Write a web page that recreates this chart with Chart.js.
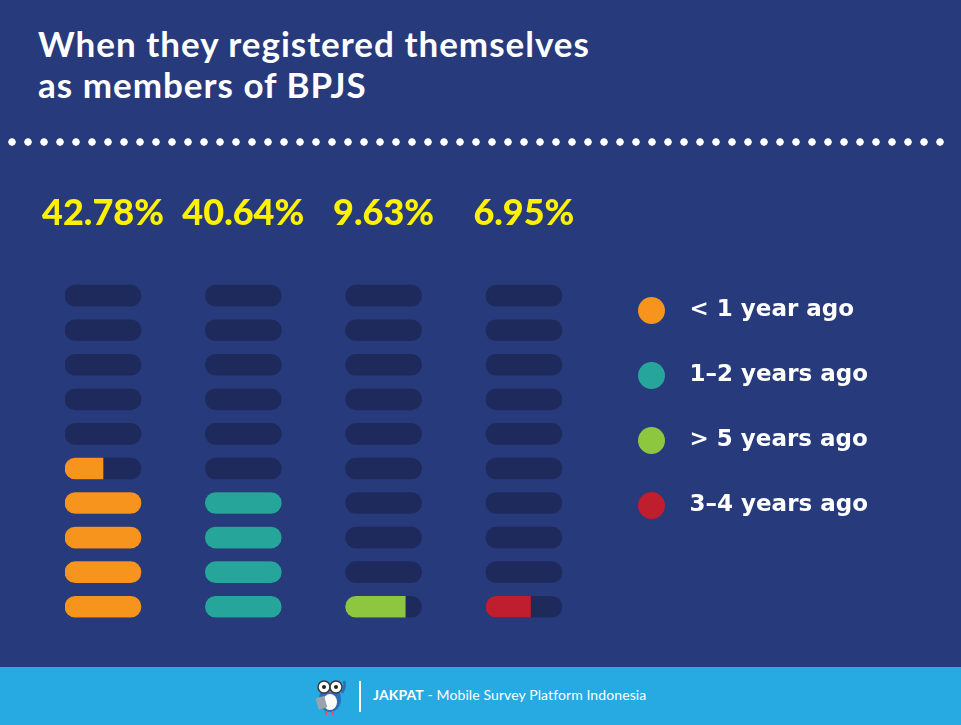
<!DOCTYPE html>
<html lang="en">
<head>
    <meta charset="UTF-8">
    <title>When they registered themselves as members of BPJS</title>
    <script src="https://cdn.jsdelivr.net/npm/chart.js@4.4.1/dist/chart.umd.min.js"></script>
    <style>
        * {
            margin: 0;
            padding: 0;
            box-sizing: border-box;
        }

        body {
            width: 961px;
            height: 725px;
            overflow: hidden;
            background: #273a7c;
            font-family: 'Lato', sans-serif;
            position: relative;
        }

        .title {
            position: absolute;
            left: 38px;
            top: 23px;
            color: #ffffff;
            font-size: 35px;
            font-weight: 700;
            line-height: 41px;
            letter-spacing: 1px;
        }

        .dots {
            position: absolute;
            left: 4px;
            top: 138px;
            width: 944px;
            height: 8px;
            background-image: radial-gradient(circle, #ffffff 3.4px, transparent 4px);
            background-size: 16px 8px;
        }

        .chart-wrapper {
            position: absolute;
            left: 0;
            top: 149px;
            width: 961px;
            height: 475px;
        }

        .footer {
            position: absolute;
            left: 0;
            top: 667px;
            width: 961px;
            height: 58px;
            background: #27a9e1;
        }

        .footer .owl {
            position: absolute;
            left: 313px;
            top: 8px;
        }

        .footer .sep {
            position: absolute;
            left: 359px;
            top: 14px;
            width: 2px;
            height: 31px;
            background: #ffffff;
        }

        .footer .brand {
            position: absolute;
            left: 373px;
            top: 19px;
            color: #ffffff;
            font-size: 14px;
            line-height: 18px;
            letter-spacing: 0.1px;
            white-space: nowrap;
        }
    </style>
</head>
<body>
    <div class="title">When they registered themselves<br>as members of BPJS</div>
    <div class="dots"></div>

    <div class="chart-wrapper">
        <canvas id="pillChart"></canvas>
    </div>

    <div class="footer">
        <svg class="owl" width="36" height="40" viewBox="0 0 36 40">
            <ellipse cx="17" cy="24" rx="11" ry="13" fill="#2d6db5"/>
            <ellipse cx="17" cy="27" rx="7" ry="8" fill="#ffffff"/>
            <rect x="4" y="22" width="9" height="12" rx="1" fill="#9aa3ad" transform="rotate(-15 8 28)"/>
            <circle cx="11" cy="12" r="6" fill="#ffffff" stroke="#3a3a3a" stroke-width="1.5"/>
            <circle cx="23" cy="12" r="6" fill="#ffffff" stroke="#3a3a3a" stroke-width="1.5"/>
            <circle cx="11" cy="12" r="2" fill="#222"/>
            <circle cx="23" cy="12" r="2" fill="#222"/>
            <path d="M16 16 L18 16 L17 19 Z" fill="#e8505b"/>
            <path d="M29 18 Q33 12 31 6" stroke="#2d6db5" stroke-width="2.5" fill="none"/>
            <rect x="12" y="36" width="2" height="4" fill="#e8505b"/>
            <rect x="19" y="36" width="2" height="4" fill="#e8505b"/>
        </svg>
        <div class="sep"></div>
        <div class="brand"><b>JAKPAT</b> - Mobile Survey Platform Indonesia</div>
    </div>

    <script>
        // データ
        const categories = ['< 1 year ago', '1–2 years ago', '> 5 years ago', '3–4 years ago'];
        const percentLabels = ['42.78%', '40.64%', '9.63%', '6.95%'];
        // pills filled per column, counted from the bottom, as drawn
        const filledPills = [4.5, 4, 0.785, 0.587];
        const rowLabels = ['10', '9', '8', '7', '6', '5', '4', '3', '2', '1'];

        const fillColors = ['#f7941e', '#26a69a', '#8dc63f', '#be1e2d'];
        const trackColor = '#1f2a5c';

        // layout (px)
        const pillWidth = 76;
        const colStep = 140.3 / pillWidth;
        const chartLeft = 65;
        const legendFont = { family: 'DejaVu Sans', size: 23, weight: 'bold' };
        const legendPad = 42;
        const legendBox = 40;
        const legendLeft = 638 - legendPad;

        // right padding so the legend starts at legendLeft
        const measure = document.createElement('canvas').getContext('2d');
        measure.font = 'bold 23px "DejaVu Sans"';
        const textW = Math.max(...categories.map(t => measure.measureText(t).width));
        const legendWidth = legendPad + legendBox + legendFont.size / 2 + textW + 10;
        const padRight = 961 - legendLeft - legendWidth;
        const xMax = (legendLeft - chartLeft) / pillWidth;

        // legend dot: circle on the left of a wider transparent box
        function dotImage(color) {
            const c = document.createElement('canvas');
            c.width = legendBox;
            c.height = 27;
            const g = c.getContext('2d');
            g.fillStyle = color;
            g.beginPath();
            g.arc(13.5, 13.5, 13.5, 0, Math.PI * 2);
            g.fill();
            return c;
        }

        const rounded = 10.5;

        const fillSets = categories.map((name, c) => ({
            label: name,
            data: rowLabels.map((r, i) => {
                const k = rowLabels.length - 1 - i;
                const frac = Math.max(0, Math.min(1, filledPills[c] - k));
                if (frac <= 0) return null;
                return [c * colStep, c * colStep + frac];
            }),
            backgroundColor: fillColors[c],
            borderWidth: 0,
            borderSkipped: false,
            borderRadius: (ctx) => {
                const v = ctx.raw;
                if (v && v[1] - v[0] < 0.999) {
                    return { topLeft: rounded, bottomLeft: rounded, topRight: 0, bottomRight: 0 };
                }
                return rounded;
            },
            barThickness: 21,
            grouped: false
        }));

        const trackSets = categories.map((name, c) => ({
            label: 'track',
            data: rowLabels.map(() => [c * colStep, c * colStep + 1]),
            backgroundColor: trackColor,
            borderWidth: 0,
            borderSkipped: false,
            borderRadius: rounded,
            barThickness: 21,
            grouped: false
        }));

        const config = {
            type: 'bar',
            data: {
                labels: rowLabels,
                datasets: [...fillSets, ...trackSets]
            },
            options: {
                indexAxis: 'y',
                responsive: true,
                maintainAspectRatio: false,
                animation: false,
                layout: {
                    padding: { left: chartLeft, right: padRight, top: 0, bottom: 0 }
                },
                plugins: {
                    tooltip: { enabled: false },
                    legend: {
                        position: 'right',
                        align: 'center',
                        title: {
                            display: true,
                            text: '',
                            font: { size: 10 },
                            padding: { top: 0, bottom: 31 }
                        },
                        labels: {
                            color: '#ffffff',
                            font: legendFont,
                            padding: legendPad,
                            usePointStyle: true,
                            pointStyleWidth: legendBox,
                            generateLabels: () => categories.map((name, c) => ({
                                text: name,
                                fillStyle: fillColors[c],
                                strokeStyle: fillColors[c],
                                lineWidth: 0,
                                pointStyle: dotImage(fillColors[c]),
                                fontColor: '#ffffff',
                                hidden: false,
                                datasetIndex: c
                            }))
                        }
                    }
                },
                scales: {
                    x: {
                        type: 'linear',
                        position: 'top',
                        min: 0,
                        max: xMax,
                        grid: { display: false, drawTicks: false },
                        border: { display: false },
                        afterBuildTicks: (axis) => {
                            axis.ticks = categories.map((n, c) => ({ value: c * colStep + 0.5 }));
                        },
                        ticks: {
                            autoSkip: false,
                            maxRotation: 0,
                            padding: 2,
                            color: '#fff200',
                            font: { family: 'Lato', size: 36, weight: '900', lineHeight: 3.483 },
                            callback: (v, i) => percentLabels[i]
                        }
                    },
                    y: {
                        type: 'category',
                        display: false
                    }
                }
            }
        };

        const ctx = document.getElementById('pillChart').getContext('2d');
        const chart = new Chart(ctx, config);
    </script>
</body>
</html>
